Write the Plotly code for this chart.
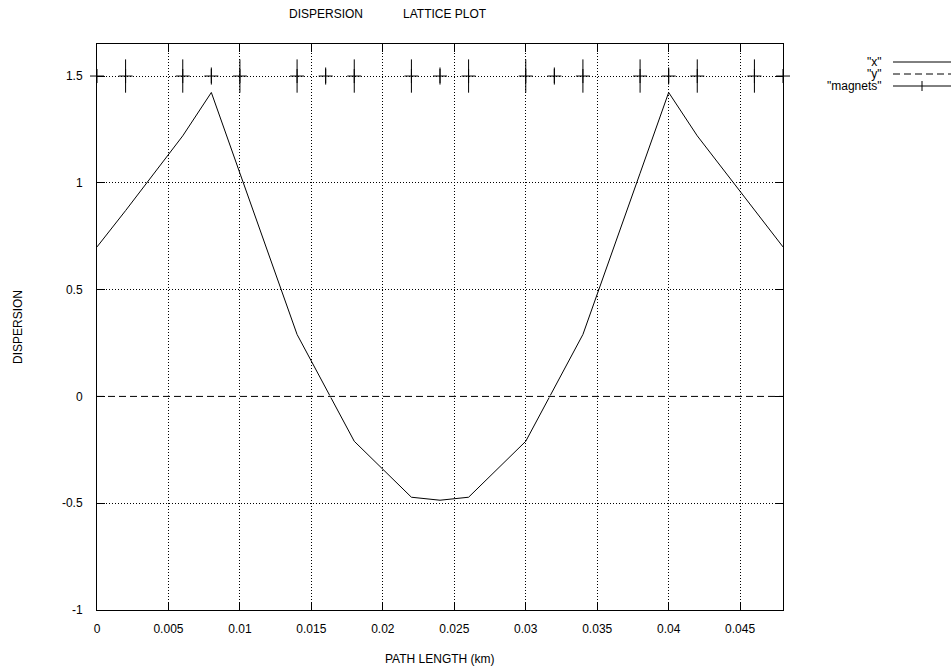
import plotly.graph_objects as go

# ---- data ----
path_km = [0, 0.002, 0.006, 0.008, 0.010, 0.014, 0.018, 0.022, 0.024, 0.026,
           0.030, 0.034, 0.038, 0.040, 0.042, 0.046, 0.048]
disp_x = [0.70, 0.87, 1.22, 1.423, 1.045, 0.29, -0.21, -0.472, -0.486, -0.472,
          -0.21, 0.29, 1.045, 1.423, 1.22, 0.87, 0.70]
disp_y = [0.0] * len(path_km)

magnet_pos = [0, 0.002, 0.006, 0.008, 0.010, 0.014, 0.016, 0.018, 0.022, 0.024,
              0.026, 0.030, 0.032, 0.034, 0.038, 0.040, 0.042, 0.046, 0.048]
magnet_half = [0, 0.078, 0.078, 0.04, 0.078, 0.078, 0.04, 0.078, 0.078, 0.04,
               0.078, 0.078, 0.04, 0.078, 0.078, 0.04, 0.078, 0.078, 0]
magnet_level = 1.5

x_ticks = [0, 0.005, 0.01, 0.015, 0.02, 0.025, 0.03, 0.035, 0.04, 0.045]
x_tick_text = ["0", "0.005", "0.01", "0.015", "0.02", "0.025", "0.03", "0.035", "0.04", "0.045"]
y_ticks = [-1, -0.5, 0, 0.5, 1, 1.5]
y_tick_text = ["-1", "-0.5", "0", "0.5", "1", "1.5"]

FONT = "Liberation Sans, Arial, Helvetica, sans-serif"
BLACK = "#000000"
DASH = "7px,4px"

fig = go.Figure()

fig.add_trace(go.Scatter(x=path_km, y=disp_x, mode="lines",
                         line=dict(color=BLACK, width=1), name='"x"', showlegend=False))
# white underlay so the dotted grid does not show in the gaps of the dashed line
fig.add_trace(go.Scatter(x=path_km, y=disp_y, mode="lines", hoverinfo="skip",
                         line=dict(color="white", width=2), showlegend=False))
fig.add_trace(go.Scatter(x=path_km, y=disp_y, mode="lines",
                         line=dict(color=BLACK, width=1, dash=DASH), name='"y"', showlegend=False))
fig.add_trace(go.Scatter(x=magnet_pos, y=[magnet_level] * len(magnet_pos), mode="markers",
                         marker=dict(symbol="cross-thin", size=10, color=BLACK,
                                     line=dict(color=BLACK, width=1)),
                         error_y=dict(type="data", array=magnet_half, symmetric=True,
                                      thickness=1, width=0, color=BLACK),
                         cliponaxis=False, name='"magnets"', showlegend=False))

grid_dash = "1px,2px"
fig.update_xaxes(range=[0, 0.048], tickvals=x_ticks, ticktext=x_tick_text,
                 showgrid=True, gridcolor=BLACK, griddash=grid_dash, gridwidth=1,
                 zeroline=False, showline=True, linecolor=BLACK, linewidth=1, mirror="ticks",
                 ticks="inside", ticklen=8, tickcolor=BLACK, ticklabelstandoff=8,
                 tickfont=dict(family=FONT, size=12, color=BLACK))
fig.update_yaxes(range=[-1, 1.65], tickvals=y_ticks, ticktext=y_tick_text,
                 showgrid=True, gridcolor=BLACK, griddash=grid_dash, gridwidth=1,
                 zeroline=False, showline=True, linecolor=BLACK, linewidth=1, mirror="ticks",
                 ticks="inside", ticklen=8, tickcolor=BLACK, ticklabelstandoff=11,
                 tickfont=dict(family=FONT, size=12, color=BLACK))

W, H = 951, 671
L, R, T, B = 97, 168, 44, 61
pw, ph = W - L - R, H - T - B

def px(xp):
    return (xp - L) / pw

def py(yp):
    return (H - B - yp) / ph

ann = []
ann.append(dict(text="DISPERSION" + "\u00a0" * 12 + "LATTICE PLOT", x=px(287), y=py(14),
                xref="paper", yref="paper", xanchor="left", yanchor="middle", showarrow=False,
                font=dict(family=FONT, size=12, color=BLACK)))
ann.append(dict(text="PATH LENGTH (km)", x=0.5, y=py(659), xref="paper", yref="paper",
                xanchor="center", yanchor="middle", showarrow=False,
                font=dict(family=FONT, size=12, color=BLACK)))
ann.append(dict(text="DISPERSION", x=px(18), y=0.5, xref="paper", yref="paper",
                xanchor="center", yanchor="middle", textangle=-90, showarrow=False,
                font=dict(family=FONT, size=12, color=BLACK)))

legend_rows = [('"x"', 62, ""), ('"y"', 74, DASH), ('"magnets"', 86, "")]
shapes = []
for label, yp, dash in legend_rows:
    ann.append(dict(text=label, x=px(884), y=py(yp), xref="paper", yref="paper",
                    xanchor="right", yanchor="middle", showarrow=False,
                    font=dict(family=FONT, size=12, color=BLACK)))
    line = dict(color=BLACK, width=1)
    if dash:
        line["dash"] = dash
    shapes.append(dict(type="line", xref="paper", yref="paper", x0=px(893), x1=px(951),
                       y0=py(yp), y1=py(yp), line=line))
shapes.append(dict(type="line", xref="paper", yref="paper", x0=px(922), x1=px(922),
                   y0=py(81), y1=py(91), line=dict(color=BLACK, width=1)))

fig.update_layout(width=W, height=H, margin=dict(l=L, r=R, t=T, b=B, autoexpand=False),
                  paper_bgcolor="white", plot_bgcolor="white", showlegend=False,
                  annotations=ann, shapes=shapes,
                  font=dict(family=FONT, size=12, color=BLACK))

fig.write_html("out.html", config={"displayModeBar": False},
               post_script="document.body.style.margin='0px';document.body.style.overflow='hidden';")
